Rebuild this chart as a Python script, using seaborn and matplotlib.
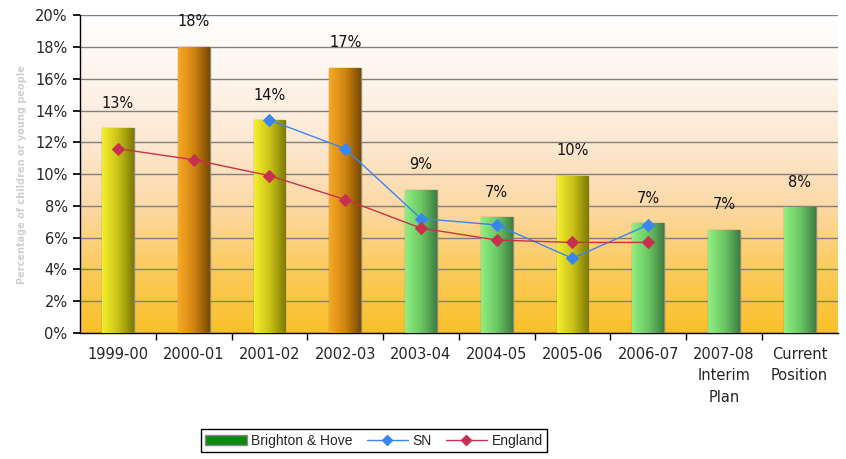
import numpy as np
import pandas as pd
import seaborn as sns
import matplotlib.pyplot as plt
from matplotlib.colors import LinearSegmentedColormap
from matplotlib.patches import Patch
from matplotlib.lines import Line2D

# chart data
years = ["1999-00", "2000-01", "2001-02", "2002-03", "2003-04", "2004-05",
         "2005-06", "2006-07", "2007-08\nInterim\nPlan", "Current\nPosition"]
brighton = [12.9, 18.0, 13.4, 16.7, 9.0, 7.3, 9.9, 6.9, 6.5, 7.9]
bar_labels = ["13%", "18%", "14%", "17%", "9%", "7%", "10%", "7%", "7%", "8%"]
bar_kind = ["yellow", "orange", "yellow", "orange", "green", "green", "yellow", "green", "green", "green"]
sn = [np.nan, np.nan, 13.4, 11.6, 7.2, 6.8, 4.7, 6.8, np.nan, np.nan]
england = [11.6, 10.9, 9.9, 8.4, 6.6, 5.85, 5.7, 5.7, np.nan, np.nan]

# gradient colours for bars (left light -> right dark)
grad = {
    "yellow": ["#F4EE2C", "#C9C218", "#7E7A05"],
    "orange": ["#F7A824", "#D08512", "#7A4A02"],
    "green": ["#8FEE82", "#6CC865", "#3F7F42"],
}
flat = {"yellow": "#D8D020", "orange": "#E08A18", "green": "#6CC865"}

sns.set_theme(style="white")
plt.rcParams['font.family'] = ['DejaVu Sans']

fig = plt.figure(figsize=(8.46, 4.59), dpi=100)
ax = fig.add_axes([0.0946, 0.2745, 0.8954, 0.6925])

df = pd.DataFrame({"year": years, "value": brighton, "kind": bar_kind})
sns.barplot(data=df, x="year", y="value", hue="year",
            palette=[flat[k] for k in bar_kind], legend=False,
            width=0.42, edgecolor="#8A8A7A", linewidth=1.0, ax=ax, zorder=3)

# background gradient
bg = LinearSegmentedColormap.from_list(
    "bg", ["#FAC02A", "#FBCB5C", "#FCD9A6", "#FDE8D2", "#FEF4EC", "#FFFFFF"])
ax.imshow(np.linspace(0, 1, 256).reshape(-1, 1), cmap=bg, aspect="auto",
          extent=[0, 1, 0, 1], transform=ax.transAxes, origin="lower", zorder=0)

# horizontal gradient inside each bar
for patch, kind in zip(ax.patches, bar_kind):
    x0, y0 = patch.get_x(), patch.get_y()
    w, h = patch.get_width(), patch.get_height()
    cm = LinearSegmentedColormap.from_list(kind, grad[kind])
    im = ax.imshow(np.linspace(0, 1, 64).reshape(1, -1), cmap=cm, aspect="auto",
                   extent=[x0, x0 + w, y0, y0 + h], origin="lower", zorder=3)
    im.set_clip_path(patch)

# lines
pos = list(range(len(years)))
lines = pd.DataFrame({"pos": pos, "SN": sn, "England": england})
sns.lineplot(data=lines, x="pos", y="SN", color="#3A86F0", marker="D",
             markersize=6, markeredgecolor="#3A86F0", linewidth=1.0, ax=ax, zorder=5)
sns.lineplot(data=lines, x="pos", y="England", color="#C8314E", marker="D",
             markersize=6, markeredgecolor="#C8314E", linewidth=1.0, ax=ax, zorder=5)

# value labels
for p, v, lab in zip(pos, brighton, bar_labels):
    ax.text(p, v + 1.1, lab, ha="center", va="bottom", fontsize=10.5, color="#111111", zorder=6)

ax.set_xlim(-0.5, len(years) - 0.5)
ax.set_ylim(0, 20)
ax.set_yticks(range(0, 21, 2))
ax.set_yticklabels([f"{t}%" for t in range(0, 21, 2)], fontsize=10.5)
ax.yaxis.grid(True, color="#7F7F7F", linewidth=1.0, zorder=1)
ax.set_axisbelow(True)
ax.set_xlabel("")
ax.set_ylabel("Percentage of children or young people", fontsize=7, color="#CFCFCF",
              fontweight="bold", labelpad=6)
ax.set_xticks(pos)
ax.set_xticklabels(years, fontsize=10.5, linespacing=1.55)
ax.set_xticks([p + 0.5 for p in pos[:-1]], minor=True)
ax.tick_params(axis="x", which="major", length=0, pad=10)
ax.tick_params(axis="x", which="minor", length=5, color="black", direction="out", bottom=True)
ax.tick_params(axis="y", length=5, color="black", direction="out", left=True, pad=4)

for s in ["top", "right"]:
    ax.spines[s].set_visible(False)
for s in ["left", "bottom"]:
    ax.spines[s].set_color("black")
    ax.spines[s].set_linewidth(1.0)

handles = [
    Patch(facecolor="#0B8A0B", edgecolor="#8A8A8A", label="Brighton & Hove"),
    Line2D([0], [0], color="#3A86F0", marker="D", markersize=5, lw=1, label="SN"),
    Line2D([0], [0], color="#C8314E", marker="D", markersize=5, lw=1, label="England"),
]
leg = fig.legend(handles=handles, loc="center", bbox_to_anchor=(0.442, 0.04), ncol=3,
                 prop={"family": "Liberation Sans", "size": 10}, frameon=True,
                 fancybox=False, edgecolor="black",
                 handlelength=3.0, columnspacing=1.0, handletextpad=0.3,
                 borderpad=0.3, framealpha=1)
leg.get_frame().set_linewidth(1.0)

fig.savefig("out.png", dpi=100)
